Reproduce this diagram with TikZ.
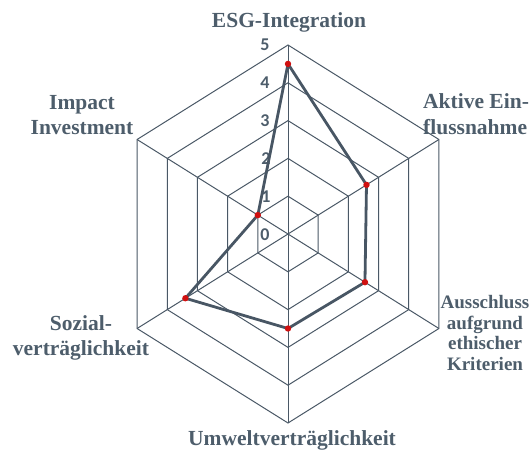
\documentclass[tikz,border=0pt]{standalone}
\usepackage{fontspec}
\usepackage{tikz}
\usepackage{xcolor}
\usetikzlibrary{positioning}
\newfontfamily\labelfont{Liberation Serif}
\newfontfamily\numfont{Carlito}
\definecolor{gridcol}{RGB}{74,88,102}
\definecolor{textcol}{RGB}{77,93,107}
\definecolor{datacol}{RGB}{72,86,100}
\definecolor{dotcol}{RGB}{208,16,16}
\tikzset{
  gridline/.style={draw=gridcol, line width=1pt},
  dataline/.style={draw=datacol, line width=2.8pt, line join=round},
  datadot/.style={fill=dotcol},
  axislabel/.style={text=textcol, inner sep=0pt, align=center, font=\labelfont\bfseries\fontsize{21.5}{25}\selectfont},
  smalllabel/.style={axislabel, font=\labelfont\bfseries\fontsize{19}{20.7}\selectfont},
  scalenum/.style={text=textcol, inner sep=0pt, font=\numfont\bfseries\fontsize{18}{20}\selectfont}
}

\begin{document}
\begin{tikzpicture}[x=1pt,y=1pt,yscale=-1,xscale=1]
\useasboundingbox (0,0) rectangle (530,452);

\begin{scope}[shift={(288,234)},xscale=0.922]
%Hexagon rings
\foreach \r in {37.8,75.6,113.4,151.2,189}
  \draw [gridline] (-90:\r) -- (-30:\r) -- (30:\r) -- (90:\r) -- (150:\r) -- (210:\r) -- cycle ;
%Spokes
\foreach \a in {-90,-30,30,90,150,210}
  \draw [gridline] (0,0) -- (\a:189) ;

%Data points
\coordinate (esgv) at (-90:170.1);
\coordinate (aktv) at (-30:98.3);
\coordinate (ausv) at (30:96.4);
\coordinate (umwv) at (90:94.5);
\coordinate (sozv) at (150:128.5);
\coordinate (impv) at (210:37.8);
\end{scope}

% Text Node
\node (n0) at (265,235) [scalenum] {0};
\node (n1) at (266,197) [scalenum] {1};
\node (n2) at (266,159) [scalenum] {2};
\node (n3) at (265,121) [scalenum] {3};
\node (n4) at (265,83) [scalenum] {4};
\node (n5) at (265,45) [scalenum] {5};

%Data polygon
\draw [dataline] (esgv) -- (aktv) -- (ausv) -- (umwv) -- (sozv) -- (impv) -- cycle ;
\foreach \p in {esgv,aktv,ausv,umwv,sozv,impv}
  \fill [datadot] (\p) circle (3.2) ;

% Text Node
\node (esg) at (289,22) [axislabel] {ESG-Integration};
% Text Node
\node (aktiv) at (423,114) [axislabel, anchor=west, align=left] {Aktive Ein-\\[1pt]flussnahme};
% Text Node
\node (ausschl) at (485,333) [smalllabel] {Ausschluss\\aufgrund\\ethischer\\Kriterien};
% Text Node
\node (umwelt) at (292,440) [axislabel] {Umweltverträglichkeit};
% Text Node
\node (sozial) at (81,338) [axislabel] {Sozial-\\verträglichkeit};
% Text Node
\node (impact) at (82,115) [axislabel] {Impact\\Investment};

\end{tikzpicture}
\end{document}
